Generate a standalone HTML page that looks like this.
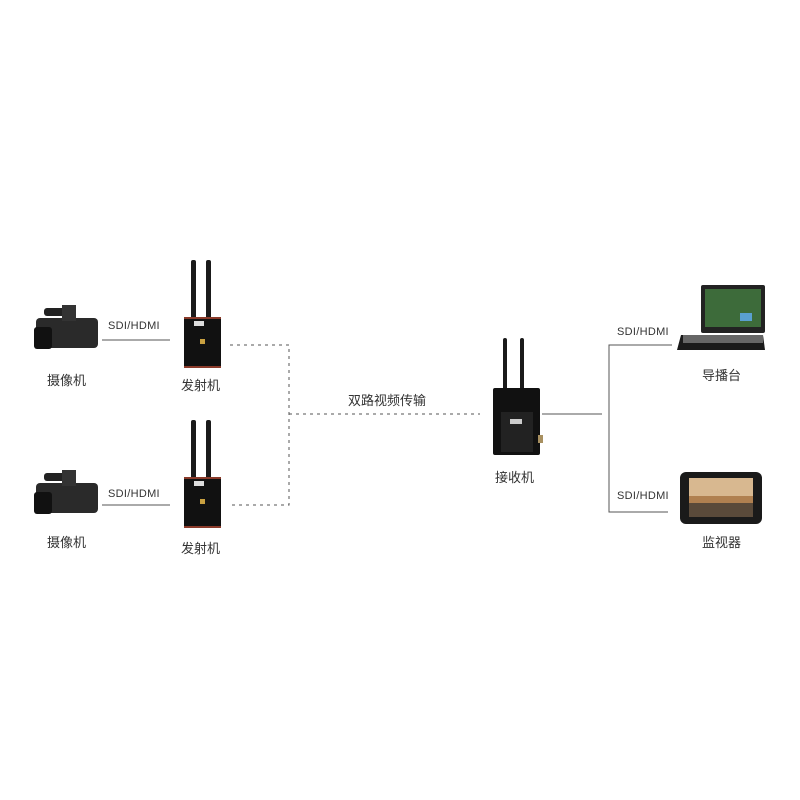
<!DOCTYPE html>
<html><head><meta charset="utf-8"><style>
body{margin:0;width:800px;height:800px;background:#fff;position:relative;overflow:hidden;font-family:"Liberation Sans","Noto Sans CJK SC",sans-serif;color:#333}
.t{position:absolute;font-size:13px;white-space:nowrap}
.s{position:absolute;font-size:11px;white-space:nowrap;color:#333;letter-spacing:0.3px}
</style></head><body>
<svg width="800" height="800" style="position:absolute;left:0;top:0">
<g stroke="#555" stroke-width="1" fill="none">
<line x1="102" y1="340" x2="170" y2="340"/>
<line x1="102" y1="505" x2="170" y2="505"/>
<line x1="542" y1="414" x2="602" y2="414"/>
<polyline points="672,345 609,345 609,512 668,512"/>
</g>
<g stroke="#555" stroke-width="1" fill="none" stroke-dasharray="3,4">
<polyline points="230,345 289,345 289,505 230,505"/>
<line x1="289" y1="414" x2="480" y2="414"/>
</g>
<!-- cameras -->
<g id="cam">
<rect x="36" y="318" width="62" height="30" rx="4" fill="#2a2a2a"/>
<rect x="34" y="327" width="18" height="22" rx="3" fill="#111"/>
<rect x="44" y="308" width="30" height="8" rx="3" fill="#222"/>
<rect x="62" y="305" width="14" height="16" fill="#333"/>
</g>
<use href="#cam" transform="translate(0,165)"/>
<!-- transmitters -->
<g id="tx">
<rect x="191" y="260" width="5" height="60" rx="2" fill="#1a1a1a"/>
<rect x="206" y="260" width="5" height="60" rx="2" fill="#1a1a1a"/>
<rect x="184" y="317" width="37" height="51" rx="2" fill="#111"/>
<rect x="184" y="317" width="37" height="2" fill="#8a3a2a"/>
<rect x="184" y="366" width="37" height="2" fill="#8a3a2a"/>
<rect x="194" y="321" width="10" height="5" fill="#ddd"/>
<rect x="200" y="339" width="5" height="5" fill="#c8a040"/>
</g>
<use href="#tx" transform="translate(0,160)"/>
<!-- receiver -->
<rect x="503" y="338" width="4" height="55" rx="2" fill="#1a1a1a"/>
<rect x="520" y="338" width="4" height="55" rx="2" fill="#1a1a1a"/>
<rect x="493" y="388" width="47" height="67" rx="2" fill="#111"/>
<rect x="501" y="412" width="32" height="40" fill="#222"/>
<rect x="510" y="419" width="12" height="5" fill="#ccc"/>
<rect x="538" y="435" width="5" height="8" fill="#a89060"/>
<!-- switcher -->
<polygon points="681,335 763,335 765,350 677,350" fill="#1a1a1a"/>
<rect x="683" y="335" width="80" height="8" fill="#666"/>
<rect x="701" y="285" width="64" height="48" rx="2" fill="#222"/>
<rect x="705" y="289" width="56" height="38" fill="#3d6b3a"/>
<rect x="740" y="313" width="12" height="8" fill="#5aa0d0"/>
<!-- monitor -->
<rect x="680" y="472" width="82" height="52" rx="6" fill="#1a1a1a"/>
<rect x="689" y="478" width="64" height="39" fill="#b08050"/>
<rect x="689" y="478" width="64" height="18" fill="#d8b890"/>
<rect x="689" y="503" width="64" height="14" fill="#5a4a3a"/>
</svg>
<div class="s" style="left:108px;top:320px">SDI/HDMI</div>
<div class="s" style="left:108px;top:488px">SDI/HDMI</div>
<div class="s" style="left:617px;top:326px">SDI/HDMI</div>
<div class="s" style="left:617px;top:490px">SDI/HDMI</div>
<div class="t" style="left:47px;top:370px">摄像机</div>
<div class="t" style="left:47px;top:532px">摄像机</div>
<div class="t" style="left:181px;top:375px">发射机</div>
<div class="t" style="left:181px;top:538px">发射机</div>
<div class="t" style="left:348px;top:390px">双路视频传输</div>
<div class="t" style="left:495px;top:467px">接收机</div>
<div class="t" style="left:702px;top:365px">导播台</div>
<div class="t" style="left:702px;top:532px">监视器</div>
</body></html>
